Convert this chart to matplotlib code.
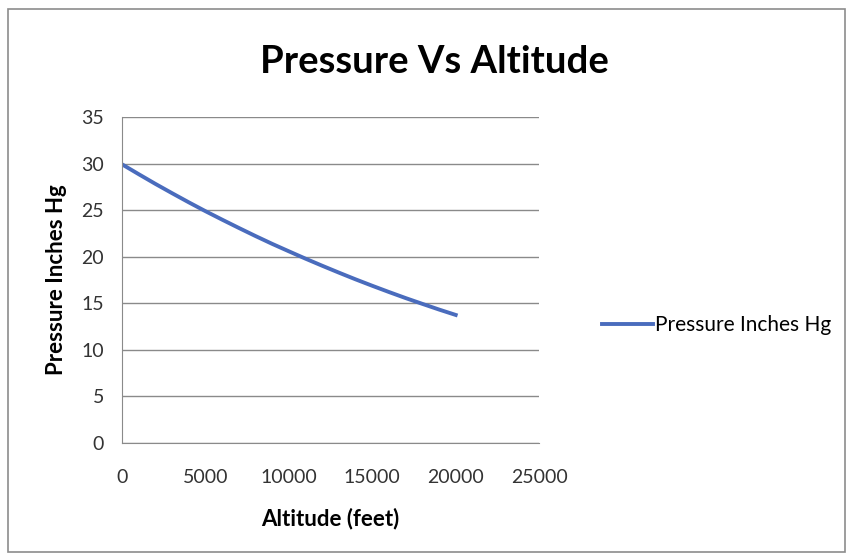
import matplotlib.pyplot as plt
from matplotlib.patches import Rectangle

altitude = [0, 1000, 2000, 3000, 4000, 5000, 6000, 7000, 8000, 9000, 10000,
            11000, 12000, 13000, 14000, 15000, 16000, 17000, 18000, 19000, 20000]
pressure = [29.92, 28.86, 27.82, 26.82, 25.84, 24.89, 23.98, 23.09, 22.22, 21.38, 20.58,
            19.79, 19.03, 18.29, 17.57, 16.88, 16.21, 15.56, 14.94, 14.33, 13.75]
x_ticks = [0, 5000, 10000, 15000, 20000, 25000]
y_ticks = [0, 5, 10, 15, 20, 25, 30, 35]

plt.rcParams['font.family'] = ['Lato', 'DejaVu Sans']

fig = plt.figure(figsize=(8.49, 5.56), dpi=100)
fig.patches.append(Rectangle((0.010, 0.008), 0.985, 0.975, transform=fig.transFigure,
                             fill=False, edgecolor='#8c8c8c', linewidth=1.2))

ax = fig.add_axes([0.1437, 0.2032, 0.4913, 0.5864])
ax.plot(altitude, pressure, color='#4a6cbd', linewidth=2.8, label='Pressure Inches Hg')

ax.set_xlim(0, 25000)
ax.set_ylim(0, 35)
ax.set_xticks(x_ticks)
ax.set_yticks(y_ticks)
ax.tick_params(axis='both', length=0, labelsize=14, colors='#333333')
ax.tick_params(axis='x', pad=19)
ax.tick_params(axis='y', pad=13)
ax.grid(axis='y', color='#8a8a8a', linewidth=1)
ax.set_axisbelow(True)
for s in ['top', 'right']:
    ax.spines[s].set_visible(False)
for s in ['left', 'bottom']:
    ax.spines[s].set_color('#8a8a8a')

ax.set_xlabel('Altitude (feet)', fontsize=16, fontweight='bold', va='center')
ax.xaxis.set_label_coords(0.499, -0.23)
ax.set_ylabel('Pressure Inches Hg', fontsize=16, fontweight='bold', va='center')
ax.yaxis.set_label_coords(-0.156, 0.5)

fig.text(0.512, 0.888, 'Pressure Vs Altitude', ha='center', va='center',
         fontsize=27.5, fontweight='bold')

ax.legend(loc='center left', bbox_to_anchor=(1.151, 0.362), frameon=False,
          fontsize=15, handlelength=2.45, handletextpad=0.1,
          borderpad=0, borderaxespad=0)

fig.savefig('out.png', dpi=100)
